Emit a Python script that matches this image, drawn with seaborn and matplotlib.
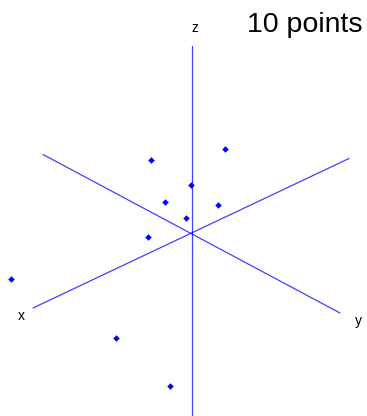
import matplotlib
matplotlib.use("Agg")
import matplotlib.pyplot as plt
import seaborn as sns
import pandas as pd

# Projected point positions (screen-plane units, origin at axes crossing)
point_u = [33.5, -40.5, -0.5, -26.5, 26.5, -5.5, -43.5, -180.5, -75.5, -21.5]
point_v = [84, 73, 48, 31, 28, 15, -4, -46, -105, -153]

# Projected axis line end points
axis_names = ["x", "x", "y", "y", "z", "z"]
axis_u = [-158.5, 157.5, -148.5, 148.5, 0, 0]
axis_v = [-75, 74.5, 78.5, -80, 187, -190]

label_text = ["x", "y", "z"]
label_u = [-170.5, 166.5, 3.5]
label_v = [-83, -88, 205]

title = "10 points"

sns.set_theme(style="white")
plt.rcParams["font.family"] = ["Liberation Sans", "DejaVu Sans"]

fig = plt.figure(figsize=(3.67, 4.16), dpi=100)
ax = fig.add_axes([0, 0, 1, 1])

axes_df = pd.DataFrame({"axis": axis_names, "u": axis_u, "v": axis_v})
for name, g in axes_df.groupby("axis"):
    sns.lineplot(data=g, x="u", y="v", sort=False, estimator=None,
                 color="#0000ff", linewidth=0.9, alpha=0.75, ax=ax)

pts = pd.DataFrame({"u": point_u, "v": point_v})
sns.scatterplot(data=pts, x="u", y="v", marker="D", s=9, color="#0000ff",
                edgecolor="#0000ff", linewidth=0.3, ax=ax, zorder=3)

for t, u, v in zip(label_text, label_u, label_v):
    ax.text(u, v, t, fontsize=10, ha="center", va="center", color="black")

fig.text(305 / 367, 1 - 25 / 416, title, fontsize=20.5, ha="center", va="center",
         color="black")

ax.set_xlim(-191.5, 175.5)
ax.set_ylim(-183, 233)
ax.set_axis_off()
ax.set_xlabel("")
ax.set_ylabel("")

fig.savefig("out.png", dpi=100)
